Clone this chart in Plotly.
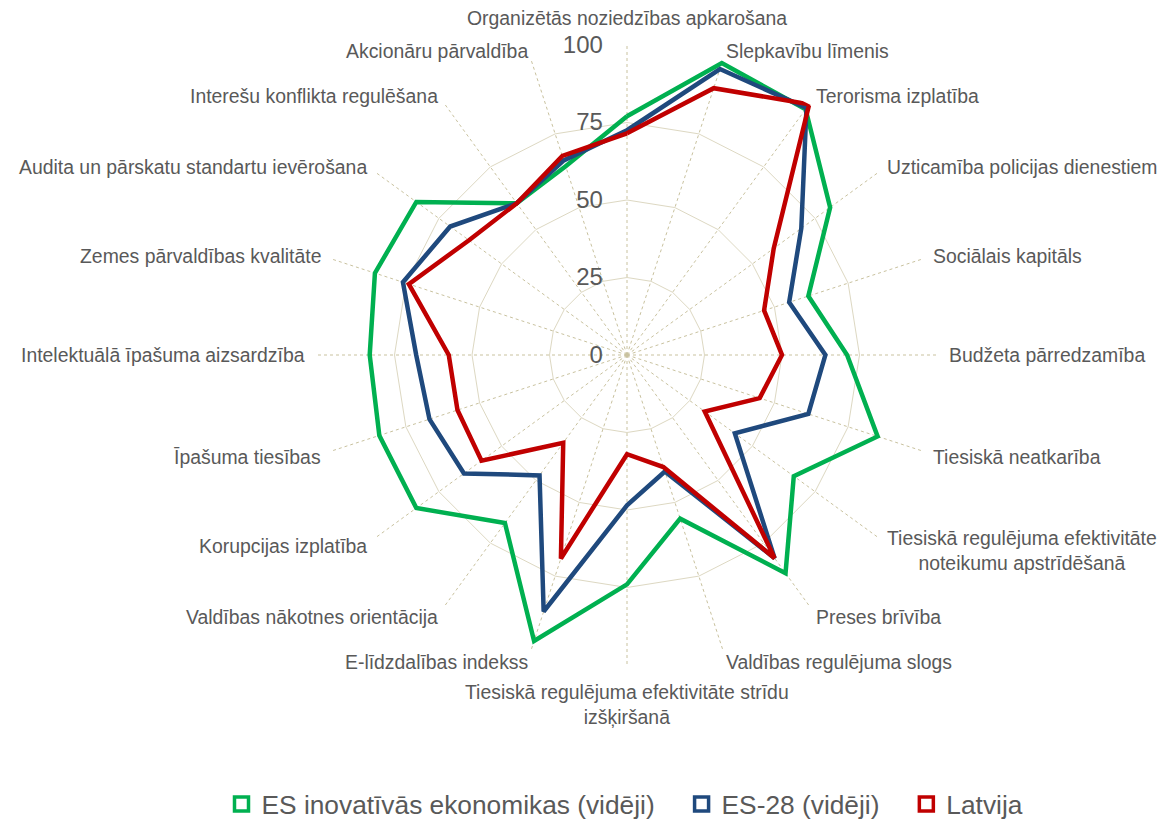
import math
import plotly.graph_objects as go

NB = "\u00a0"
categories = [
    "Organizētās noziedzības apkarošana",
    "Slepkavību līmenis",
    "Terorisma izplatība",
    "Uzticamība policijas dienestiem",
    "Sociālais kapitāls",
    "Budžeta pārredzamība",
    "Tiesiskā neatkarība",
    "Tiesiskā regulējuma efektivitāte<br>noteikumu apstrīdēšanā",
    "Preses brīvība",
    "Valdības regulējuma slogs",
    "Tiesiskā regulējuma efektivitāte strīdu<br>izšķiršanā",
    "E-līdzdalības indekss",
    "Valdības nākotnes orientācija",
    "Korupcijas izplatība",
    "Īpašuma tiesības",
    "Intelektuālā īpašuma aizsardzība",
    "Zemes pārvaldības kvalitāte",
    "Audita un pārskatu standartu ievērošana",
    "Interešu konflikta regulēšana",
    "Akcionāru pārvaldība",
]

es_innov = [77, 99, 98, 81, 61.5, 71, 85, 66.5, 87, 55.5, 74, 97, 67, 84, 84, 83, 85.5, 84, 60.5, 64]
es28 = [72.5, 97, 98.5, 69.5, 55, 64, 61.5, 43, 81, 39.5, 48.5, 87, 48, 65, 67, 68, 76, 70.5, 60.5, 66]
latvija = [71.5, 90.5, 100, 58.5, 46.5, 50, 45, 31, 81, 38, 32, 69, 35, 58, 57.5, 57.5, 74, 63, 60.5, 67.5]

series_names = ["ES inovatīvās ekonomikas (vidēji)", "ES-28 (vidēji)", "Latvija"]
series_values = [es_innov, es28, latvija]
series_colors = ["#00B050", "#1F497D", "#C00000"]

radial_ticks = [0, 25, 50, 75, 100]

FONT = "Liberation Sans, Arial, sans-serif"
TEXT = "#595959"
LABEL_SIZE = 19.4

fig = go.Figure()
for name, vals, col in zip(series_names, series_values, series_colors):
    fig.add_trace(go.Scatterpolar(
        r=vals + vals[:1], theta=categories + categories[:1],
        mode="lines", line=dict(color=col, width=4.5),
        name=name, showlegend=False, hoverinfo="skip",
    ))
for i, (name, col) in enumerate(zip(series_names, series_colors)):
    pad = NB * 3 if i < len(series_names) - 1 else ""
    fig.add_trace(go.Scatterpolar(
        r=[None], theta=[categories[0]], mode="markers",
        marker=dict(symbol="square-open", size=14, color=col, line=dict(width=3.5, color=col)),
        name=name + pad, showlegend=True,
    ))

W, H = 1168, 827
OFF = 8  # page body margin
cx, cy, R = 627 - OFF, 355 - OFF, 310

# category labels placed just outside the outer polygon, Excel-style
n = len(categories)
annotations = []
for i, lab in enumerate(categories):
    th = math.radians(360.0 * i / n)
    s, c = math.sin(th), math.cos(th)
    vx, vy = cx + R * s, cy - R * c
    nlines = lab.count("<br>") + 1
    if abs(s) < 1e-6:
        if c > 0:
            x, y, xa, ya = vx, vy - 14, "center", "bottom"
        else:
            x, y, xa, ya = vx, vy + 14, "center", "top"
    else:
        h = 20 + 14 * (nlines - 1)
        x = vx + 13 * s - 3 * (1 if s > 0 else -1)
        y = vy - c * h / 2 + (3 if c < -0.1 else 0)
        xa = "left" if s > 0 else "right"
        ya = "middle"
    annotations.append(dict(
        text=lab, x=x / W, y=1 - y / H, xref="paper", yref="paper",
        xanchor=xa, yanchor=ya, align="center", showarrow=False,
        font=dict(size=LABEL_SIZE, color=TEXT, family=FONT),
    ))

fig.update_layout(
    width=W, height=H,
    paper_bgcolor="white", plot_bgcolor="white",
    margin=dict(l=0, r=0, t=0, b=0),
    font=dict(family=FONT, color=TEXT, size=LABEL_SIZE),
    annotations=annotations,
    polar=dict(
        domain=dict(x=[(cx - R) / W, (cx + R) / W], y=[(H - cy - R) / H, (H - cy + R) / H]),
        bgcolor="white",
        gridshape="linear",
        angularaxis=dict(
            direction="clockwise", rotation=90,
            categoryorder="array", categoryarray=categories,
            showline=False, ticks="", showticklabels=False,
            showgrid=True, gridcolor="#C9C29F", griddash="dot", gridwidth=1,
        ),
        radialaxis=dict(
            range=[0, 100], tickvals=radial_ticks,
            ticktext=[str(t) + NB * 3 for t in radial_ticks],
            angle=90, tickangle=90, side="counterclockwise", showline=False, ticks="",
            gridcolor="#DDD8C2", gridwidth=1,
            tickfont=dict(size=24, color=TEXT, family=FONT),
        ),
    ),
    legend=dict(
        orientation="h", x=(625 - OFF) / W, xanchor="center", y=0.008, yanchor="bottom",
        font=dict(size=26.3, color=TEXT, family=FONT), itemsizing="trace",
        itemwidth=30, tracegroupgap=0,
    ),
)

fig.write_html("out.html")
